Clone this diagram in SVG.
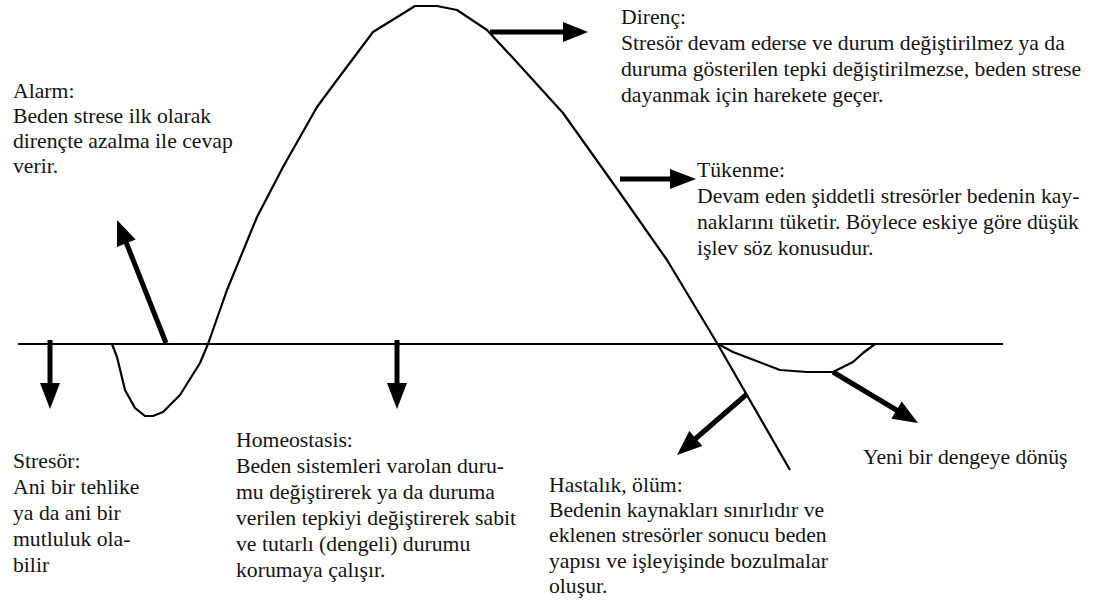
<svg xmlns="http://www.w3.org/2000/svg" width="1103" height="605" viewBox="0 0 1103 605">
<style>
.t{font-size:21.7px;fill:#141414;font-family:'Liberation Serif','Times New Roman',serif}
.curve{fill:none;stroke:#000;stroke-width:2.2;stroke-linejoin:round}
.shaft{stroke:#000;stroke-width:5;fill:none}
.head{fill:#000}
</style>
<rect width="1103" height="605" fill="#fff"/>
<g id="connectors">
<line x1="18" y1="344" x2="1003" y2="344" class="curve"/>
<path class="curve" d="M112,344 L117,357 L125,390 L135,408 L145,416 L153,416 L163,412 L180,395 L200,363 L208,344 L227,290 L257,217 L283,167 L317,107 L337,80 L373,32 L415,6 L437,6 L457,10 L487,30 L513,58 L563,113 L620,193 L667,260 L717,343 L790,470"/>
<path class="curve" d="M718,344 L733,352 L780,370 L807,372 L833,372 L853,362 L863,353 L875,344"/>
<line class="shaft" x1="50" y1="340" x2="50" y2="385"/>
<polygon class="head" points="40,383 60,383 50,409"/>
<line class="shaft" x1="397" y1="340" x2="397" y2="385"/>
<polygon class="head" points="387,383 407,383 397,409"/>
<line class="shaft" x1="166" y1="343" x2="126" y2="242"/>
<polygon class="head" points="117,220 135.6,239.5 117,246.9"/>
<line class="shaft" x1="490" y1="32" x2="565" y2="32"/>
<polygon class="head" points="563,22 563,42 588,32"/>
<line class="shaft" x1="620" y1="179" x2="672" y2="179"/>
<polygon class="head" points="670,169 670,189 696,179"/>
<line class="shaft" x1="833" y1="372" x2="898" y2="411"/>
<polygon class="head" points="918,423 891.4,418.7 901.7,401.5"/>
<line class="shaft" x1="747" y1="394" x2="694" y2="440"/>
<polygon class="head" points="677,455 702.4,446.1 689.3,431.1"/>
</g>
<g class="t">
<g id="alarm">
<text x="13" y="98">Alarm:</text>
<text x="13" y="123">Beden strese ilk olarak</text>
<text x="13" y="148">dirençte azalma ile cevap</text>
<text x="13" y="173">verir.</text>
</g>
<g id="direnc">
<text x="621" y="24">Direnç:</text>
<text x="621" y="50">Stresör devam ederse ve durum değiştirilmez ya da</text>
<text x="621" y="76">duruma gösterilen tepki değiştirilmezse, beden strese</text>
<text x="621" y="102">dayanmak için harekete geçer.</text>
</g>
<g id="tukenme">
<text x="697" y="177">Tükenme:</text>
<text x="697" y="203">Devam eden şiddetli stresörler bedenin kay-</text>
<text x="697" y="229">naklarını tüketir. Böylece eskiye göre düşük</text>
<text x="697" y="255">işlev söz konusudur.</text>
</g>
<g id="stresor">
<text x="13" y="468">Stresör:</text>
<text x="13" y="494">Ani bir tehlike</text>
<text x="13" y="520">ya da ani bir</text>
<text x="13" y="546">mutluluk ola-</text>
<text x="13" y="572">bilir</text>
</g>
<g id="homeostasis">
<text x="236" y="447">Homeostasis:</text>
<text x="236" y="473">Beden sistemleri varolan duru-</text>
<text x="236" y="499">mu değiştirerek ya da duruma</text>
<text x="236" y="525">verilen tepkiyi değiştirerek sabit</text>
<text x="236" y="551">ve tutarlı (dengeli) durumu</text>
<text x="236" y="577">korumaya çalışır.</text>
</g>
<g id="hastalik">
<text x="549" y="492">Hastalık, ölüm:</text>
<text x="549" y="517">Bedenin kaynakları  sınırlıdır ve</text>
<text x="549" y="542">eklenen stresörler sonucu beden</text>
<text x="549" y="568">yapısı ve işleyişinde bozulmalar</text>
<text x="549" y="593">oluşur.</text>
</g>
<g id="yeni">
<text x="863" y="464">Yeni bir dengeye dönüş</text>
</g>
</g>
</svg>
